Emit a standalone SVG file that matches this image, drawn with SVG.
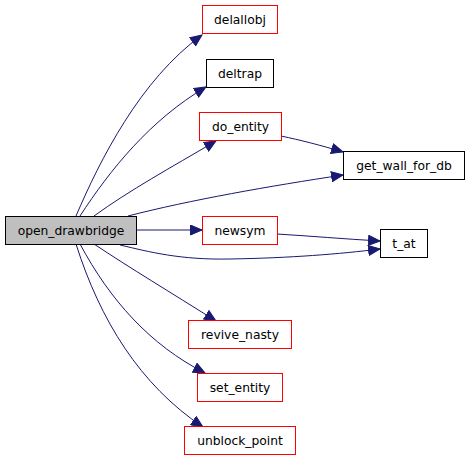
<svg xmlns="http://www.w3.org/2000/svg" width="469" height="461" viewBox="0 0 469 461">
<style>
.n rect{fill:#fff;stroke:#000;stroke-width:1}
.n.red rect{stroke:#ff0000}
.n.main rect{fill:#bfbfbf}
.n text{font-family:"DejaVu Sans",sans-serif;font-size:12.3px;text-anchor:middle;fill:#000}
.e path{fill:none;stroke:#191970;stroke-width:1;marker-end:url(#ah)}
</style>
<defs>
<marker id="ah" markerWidth="13" markerHeight="11" refX="12" refY="5.5" orient="auto" markerUnits="userSpaceOnUse">
<path d="M0.5,0.5 L12,5.5 L0.5,10.5 Z" fill="#191970" stroke="#191970"/>
</marker>
</defs>
<rect width="469" height="461" fill="#fff"/>
<g id="connectors" class="e">
<path d="M76,216 C100,160 140,80 202,35"/>
<path d="M80,216 C110,170 150,120 206,87"/>
<path d="M94,216 C130,190 170,168 216,141"/>
<path d="M128,216 C190,200 270,186 343,175"/>
<path d="M281,136 C300,140 320,145 343,152"/>
<path d="M136,230 L202,230"/>
<path d="M277,234 C310,236 345,239 380,241"/>
<path d="M120,245 C150,252 180,260 230,259 C290,258 340,254 380,249"/>
<path d="M94,244 C130,268 170,292 216,321"/>
<path d="M80,244 C110,300 150,345 205,373"/>
<path d="M76,244 C100,320 140,385 203,427"/>
</g>
<g id="open_drawbridge" class="n main"><rect x="5.5" y="216.5" width="131" height="28"/><text x="71" y="234.5">open_drawbridge</text></g>
<g id="delallobj" class="n red"><rect x="202.5" y="5.5" width="75" height="28"/><text x="240" y="23.5">delallobj</text></g>
<g id="deltrap" class="n"><rect x="206.5" y="59.5" width="67" height="28"/><text x="240" y="77.5">deltrap</text></g>
<g id="do_entity" class="n red"><rect x="199.5" y="112.5" width="82" height="28"/><text x="240.5" y="130.5">do_entity</text></g>
<g id="get_wall_for_db" class="n"><rect x="343.5" y="151.5" width="121" height="28"/><text x="404" y="169.5">get_wall_for_db</text></g>
<g id="newsym" class="n red"><rect x="202.5" y="216.5" width="75" height="28"/><text x="240" y="234.5">newsym</text></g>
<g id="t_at" class="n"><rect x="380.5" y="229.5" width="47" height="28"/><text x="404" y="247.5">t_at</text></g>
<g id="revive_nasty" class="n red"><rect x="188.5" y="320.5" width="103" height="28"/><text x="240" y="338.5">revive_nasty</text></g>
<g id="set_entity" class="n red"><rect x="197.5" y="373.5" width="85" height="28"/><text x="240" y="391.5">set_entity</text></g>
<g id="unblock_point" class="n red"><rect x="184.5" y="426.5" width="111" height="28"/><text x="240" y="444.5">unblock_point</text></g>
</svg>
